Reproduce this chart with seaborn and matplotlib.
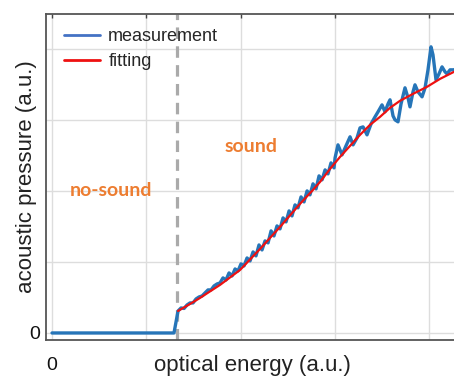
import matplotlib
matplotlib.use("Agg")
import matplotlib.pyplot as plt
import seaborn as sns
import pandas as pd

sns.set_theme(style="white")
plt.rcParams['font.family'] = ['Liberation Sans', 'DejaVu Sans']

# ---------------- data ----------------
meas_x = [0.0, 1.294, 1.337, 1.369, 1.401, 1.432, 1.464, 1.496, 1.528, 1.560, 1.592,
          1.623, 1.655, 1.687, 1.719, 1.751, 1.782, 1.814, 1.846, 1.878, 1.910,
          1.942, 1.973, 2.005, 2.037, 2.069, 2.101, 2.133, 2.164, 2.196, 2.228,
          2.260, 2.292, 2.324, 2.355, 2.387, 2.419, 2.451, 2.483, 2.515, 2.546,
          2.578, 2.610, 2.642, 2.674, 2.706, 2.737, 2.769, 2.801, 2.833, 2.865,
          2.897, 2.928, 2.960, 2.992, 3.003, 3.034, 3.077, 3.119, 3.162, 3.194,
          3.236, 3.268, 3.300, 3.342, 3.385, 3.427, 3.459, 3.501, 3.533, 3.565,
          3.586, 3.618, 3.639, 3.671, 3.703, 3.745, 3.777, 3.798, 3.830, 3.851,
          3.883, 3.926, 3.958, 3.989, 4.021, 4.042, 4.074, 4.106, 4.138, 4.170,
          4.191, 4.223, 4.265, 4.308]
meas_y = [0.0, 0.0, 0.310, 0.352, 0.345, 0.394, 0.423, 0.423, 0.479, 0.507, 0.521,
          0.563, 0.606, 0.606, 0.662, 0.690, 0.704, 0.775, 0.746, 0.845, 0.803,
          0.901, 0.873, 0.972, 0.944, 1.056, 1.014, 1.141, 1.085, 1.239, 1.169,
          1.296, 1.268, 1.437, 1.366, 1.507, 1.465, 1.620, 1.563, 1.718, 1.648,
          1.803, 1.761, 1.915, 1.845, 2.000, 1.944, 2.099, 2.028, 2.211, 2.155,
          2.296, 2.239, 2.394, 2.324, 2.465, 2.648, 2.507, 2.634, 2.761, 2.648,
          2.746, 2.887, 2.901, 2.789, 2.944, 3.042, 3.113, 3.211, 3.113, 3.225,
          3.282, 3.056, 3.000, 2.972, 3.225, 3.451, 3.310, 3.183, 3.394, 3.493,
          3.394, 3.324, 3.451, 3.704, 4.028, 3.915, 3.563, 3.648, 3.746, 3.676,
          3.648, 3.704, 3.704, 3.732]

fit_x = [1.337, 1.464, 1.570, 1.676, 1.782, 1.889, 1.995, 2.101, 2.207, 2.313,
         2.419, 2.525, 2.631, 2.769, 2.844, 2.950, 3.056, 3.162, 3.268, 3.374,
         3.480, 3.586, 3.692, 3.830, 3.979, 4.117, 4.265, 4.318]
fit_y = [0.310, 0.408, 0.493, 0.585, 0.676, 0.782, 0.887, 1.035, 1.183, 1.338,
         1.493, 1.655, 1.817, 2.014, 2.127, 2.310, 2.479, 2.634, 2.789, 2.930,
         3.042, 3.169, 3.268, 3.366, 3.465, 3.577, 3.676, 3.704]

threshold_x = 1.326
x_ticks = [0, 1, 2, 3, 4]
x_tick_labels = ['0', '', '', '', '']
y_ticks = [0, 1, 2, 3, 4]
y_tick_labels = ['0', '', '', '', '']

# ---------------- figure ----------------
W, H = 454, 377
fig = plt.figure(figsize=(W / 100, H / 100), dpi=100)
ax = fig.add_axes([46 / W, 37 / H, (459 - 46) / W, (340 - 14) / H])

ax.set_xlim(-0.064, 4.318)
ax.set_ylim(-0.099, 4.49)

ax.grid(True, color='#dddddd', linewidth=1.0)
ax.set_axisbelow(True)

ax.axvline(threshold_x, color='#aaaaaa', linewidth=2.3, dashes=(3.6, 2.3), zorder=2)

meas = pd.DataFrame({'x': meas_x, 'y': meas_y})
fit = pd.DataFrame({'x': fit_x, 'y': fit_y})
sns.lineplot(data=meas, x='x', y='y', ax=ax, color='#2675b8', linewidth=2.4,
             label='measurement', zorder=3, sort=False)
sns.lineplot(data=fit, x='x', y='y', ax=ax, color='#ee1111', linewidth=1.6,
             label='fitting', zorder=4, sort=False)

ax.set_xticks(x_ticks)
ax.set_xticklabels(x_tick_labels)
ax.set_yticks(y_ticks)
ax.set_yticklabels(y_tick_labels)
ax.tick_params(axis='both', direction='in', length=3, width=1, color='#444444',
               labelsize=14, labelcolor='#111111', top=True, right=True)
ax.tick_params(axis='x', pad=12)
ax.tick_params(axis='y', pad=4)

for side in ['left', 'bottom', 'top']:
    ax.spines[side].set_color('#555555')
    ax.spines[side].set_linewidth(1.3)
ax.spines['right'].set_visible(False)

ax.set_xlabel('optical energy (a.u.)', fontsize=16, color='#222222')
ax.set_ylabel('acoustic pressure (a.u.)', fontsize=16, color='#222222')
ax.xaxis.set_label_coords(0.5, -0.045)
ax.yaxis.set_label_coords(-0.022, 0.5)

leg = ax.legend(loc='upper left', frameon=False, fontsize=13, handlelength=2.0,
                bbox_to_anchor=(0.0, 1.012), labelspacing=0.45, handletextpad=0.45,
                borderaxespad=0.6)
for line in leg.get_lines():
    line.set_linewidth(2.0)
leg.get_lines()[0].set_color('#4472c4')

ax.text(2.11, 2.63, 'sound', color='#ed7d31', fontsize=14, fontweight='bold',
        family=['Lato', 'DejaVu Sans'], ha='center', va='center')
ax.text(0.63, 2.01, 'no-sound', color='#ed7d31', fontsize=14, fontweight='bold',
        family=['Lato', 'DejaVu Sans'], ha='center', va='center')

fig.savefig('out.png', dpi=100)
